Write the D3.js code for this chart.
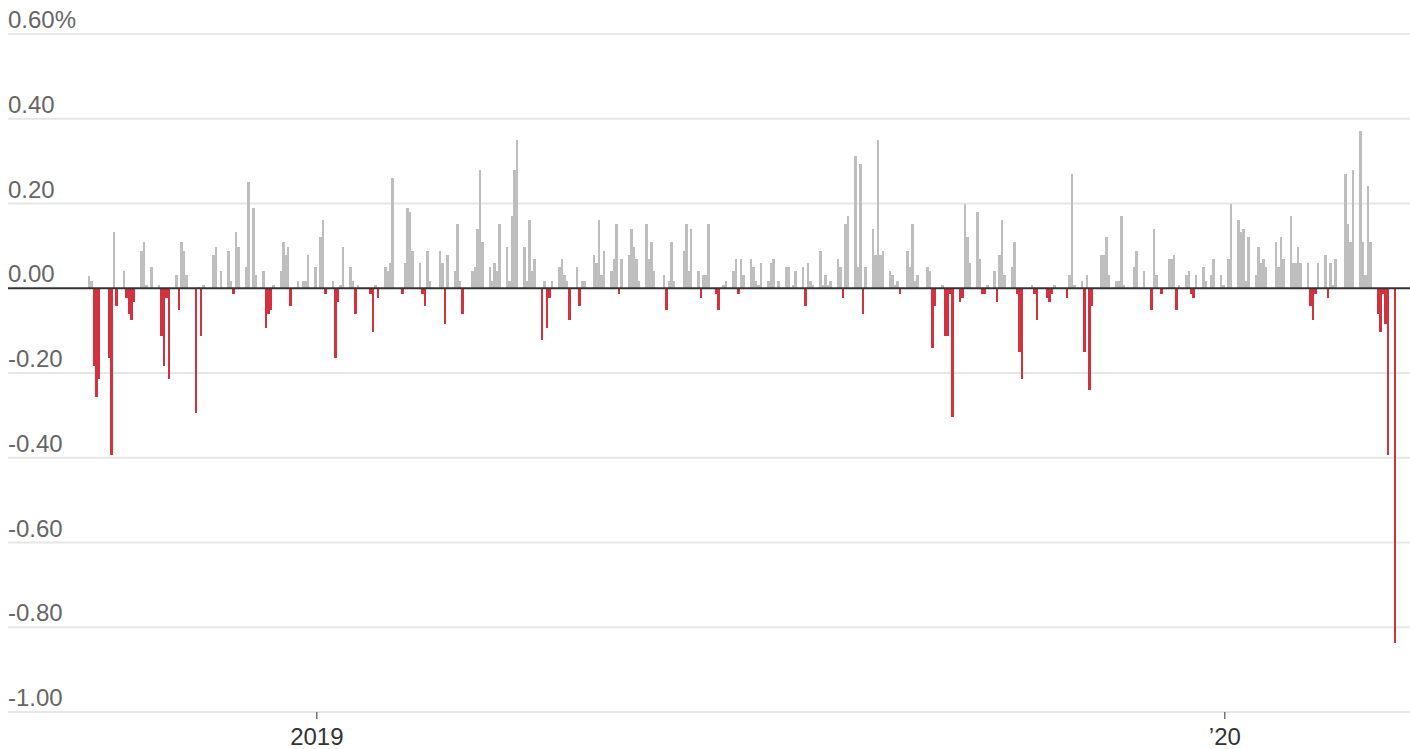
<!DOCTYPE html>
<html><head><meta charset="utf-8">
<script src="https://cdn.jsdelivr.net/npm/d3@7"></script>
<style>
html,body{margin:0;padding:0;background:#fff;}
svg text{font-family:"Liberation Sans", Arial, sans-serif;}
</style></head><body>
<svg id="chart" width="1410" height="749"></svg>
<script>
// Daily change, one row per week (Mon..Fri); null = market closed
const firstMonday = "2018-10-01";
const weeks2018 = [
  [0.03, 0.017, -0.184, -0.256, -0.213],
  [null, -0.165, -0.394, 0.132, -0.041],
  [0.041, -0.022, -0.06, -0.075, -0.032],
  [0.089, 0.108, 0.008, 0.0, 0.051],
  [0.008, -0.113, -0.184, -0.022, -0.213],
  [0.032, -0.051, 0.108, 0.089, 0.032],
  [null, -0.294, 0.003, -0.113, 0.008],
  [0.0, 0.079, 0.098, null, 0.041],
  [0.089, 0.017, -0.013, 0.132, 0.098],
  [0.051, 0.251, null, 0.189, 0.032],
  [0.041, -0.094, -0.06, -0.051, 0.008],
  [0.041, 0.108, 0.079, 0.098, -0.041],
  [0.017, null, 0.017, 0.017, 0.079],
  [0.051, null, 0.122, 0.16, -0.013]
];
const weeks2019 = [
  [0.017, -0.165, -0.032, 0.008, 0.098],
  [0.051, 0.017, -0.06, 0.008, 0.0],
  [null, -0.013, -0.103, 0.008, -0.022],
  [0.051, 0.041, 0.06, 0.26, 0.0],
  [-0.013, 0.06, 0.189, 0.179, 0.089],
  [0.06, -0.013, -0.041, 0.089, 0.017],
  [null, 0.089, 0.06, -0.084, 0.079],
  [0.041, 0.151, 0.017, -0.06, 0.0],
  [0.041, 0.051, 0.141, 0.279, 0.108],
  [0.051, 0.017, 0.06, 0.041, 0.151],
  [0.098, 0.017, 0.17, 0.279, 0.351],
  [0.098, 0.017, 0.16, 0.041, 0.07],
  [-0.122, 0.017, -0.094, -0.022, 0.017],
  [0.051, 0.07, 0.032, 0.017, -0.075],
  [0.051, -0.041, 0.017, 0.017, null],
  [0.079, 0.06, 0.16, 0.032, 0.089],
  [0.041, 0.07, 0.151, -0.013, 0.07],
  [0.079, 0.141, 0.098, 0.07, 0.017],
  [0.151, 0.07, 0.108, 0.041, 0.0],
  [0.032, -0.051, 0.017, 0.108, 0.017],
  [null, 0.089, 0.151, 0.041, 0.141],
  [0.041, -0.022, 0.032, 0.032, 0.151],
  [-0.013, -0.051, 0.0, 0.008, 0.017],
  [0.041, 0.07, -0.013, 0.07, 0.032],
  [0.07, 0.051, 0.017, 0.008, 0.06],
  [0.017, 0.06, 0.07, null, 0.017],
  [0.051, 0.051, 0.0, 0.008, 0.041],
  [0.051, -0.041, 0.06, 0.017, 0.008],
  [0.089, 0.008, 0.032, 0.008, 0.017],
  [0.07, 0.051, -0.022, 0.151, 0.17],
  [0.313, 0.051, 0.294, -0.06, 0.051],
  [0.141, 0.079, 0.351, 0.079, 0.089],
  [0.041, 0.032, 0.008, 0.017, -0.013],
  [0.089, 0.051, 0.151, 0.017, 0.032],
  [null, 0.051, 0.041, -0.141, -0.041],
  [0.008, -0.113, -0.113, -0.013, -0.303],
  [-0.032, -0.022, 0.198, 0.122, 0.06],
  [0.179, 0.07, -0.013, -0.013, 0.008],
  [0.041, -0.032, 0.079, 0.16, 0.032],
  [0.051, 0.108, -0.013, -0.151, -0.213],
  [null, 0.008, -0.013, -0.075, 0.0],
  [-0.022, -0.032, -0.013, 0.008, 0.0],
  [0.0, -0.022, 0.032, 0.27, 0.008],
  [0.017, -0.151, 0.032, -0.241, -0.041],
  [null, 0.079, 0.079, 0.122, 0.032],
  [0.017, 0.017, 0.17, 0.008, 0.0],
  [0.051, 0.089, 0.0, null, 0.041],
  [-0.051, 0.141, 0.032, 0.0, -0.013],
  [0.07, 0.07, 0.079, -0.051, 0.008],
  [0.032, 0.041, -0.013, -0.022, 0.032],
  [0.051, 0.017, null, 0.032, 0.07],
  [0.032, 0.008, null, 0.07, 0.198]
];
const weeks2020 = [
  [0.16, 0.132, 0.141, 0.017, 0.122],
  [0.032, 0.098, 0.06, 0.07, 0.051],
  [null, 0.108, 0.051, 0.122, 0.07],
  [0.17, 0.06, 0.06, 0.098, 0.06],
  [0.06, -0.041, -0.075, -0.013, 0.06],
  [0.079, -0.022, 0.06, 0.008, 0.07],
  [null, 0.27, 0.151, 0.108, 0.279],
  [0.37, 0.108, 0.032, 0.241, 0.108],
  [-0.061, -0.103, -0.013, -0.085, -0.394],
  [-0.837]
];
const yTicks = [0.6, 0.4, 0.2, 0, -0.2, -0.4, -0.6, -0.8, -1.0];
const yTickLabels = ["0.60%", "0.40", "0.20", "0.00", "-0.20", "-0.40", "-0.60", "-0.80", "-1.00"];
const xTickDates = ["2019-01-01", "2020-01-01"];
const xTickLabels = ["2019", "\u201920"];

const parse = d3.utcParse("%Y-%m-%d");
const start = parse(firstMonday);
const data = [];
[...weeks2018, ...weeks2019, ...weeks2020].forEach((wk, i) => {
  wk.forEach((v, j) => {
    if (v === null) return;
    data.push({date: d3.utcDay.offset(start, i * 7 + j), value: v});
  });
});

const W = 1410, H = 749;
const svg = d3.select("#chart");
const x = d3.scaleUtc()
  .domain([start, parse("2020-03-10")])
  .range([88, 88 + 526 * 2.4876]);
const y = d3.scaleLinear().domain([-1, 0.6]).range([712, 34]);

// gridlines
svg.append("g").selectAll("line").data(yTicks.filter(t => t !== 0)).join("line")
  .attr("x1", 8).attr("x2", W).attr("y1", d => y(d)).attr("y2", d => y(d))
  .attr("stroke", "#e6e6e6").attr("stroke-width", 2);

// y labels
svg.append("g").selectAll("text").data(yTicks).join("text")
  .attr("x", 8).attr("y", d => y(d) - 6)
  .attr("font-size", 24).attr("fill", "#666")
  .text((d, i) => yTickLabels[i]);

// bars
svg.append("g").attr("shape-rendering", "crispEdges")
  .selectAll("rect").data(data).join("rect")
  .attr("x", d => x(d.date))
  .attr("width", d => x(d3.utcDay.offset(d.date, 1)) - x(d.date))
  .attr("y", d => d.value >= 0 ? y(d.value) : y(0))
  .attr("height", d => Math.abs(y(d.value) - y(0)))
  .attr("fill", d => d.value >= 0 ? "#bebebe" : "#d3313d");

// zero line
svg.append("line").attr("x1", 8).attr("x2", W).attr("y1", y(0)).attr("y2", y(0))
  .attr("stroke", "#333").attr("stroke-width", 2);

// x ticks
const xg = svg.append("g");
xTickDates.forEach((d, i) => {
  const xx = x(parse(d));
  xg.append("line").attr("x1", xx).attr("x2", xx).attr("y1", y(-1)).attr("y2", y(-1) + 7)
    .attr("stroke", "#333").attr("stroke-width", 1);
  xg.append("text").attr("x", xx).attr("y", 745).attr("text-anchor", "middle")
    .attr("font-size", 24).attr("fill", "#333").text(xTickLabels[i]);
});
</script>
</body></html>
